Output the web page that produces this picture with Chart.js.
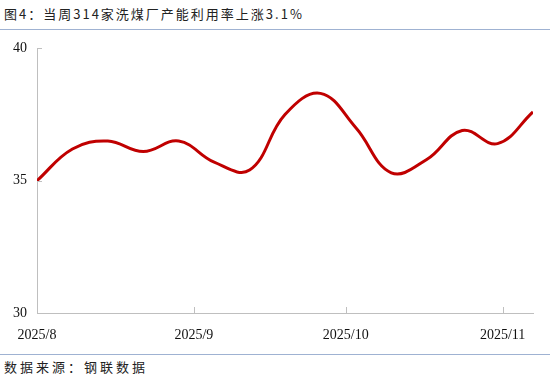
<!DOCTYPE html>
<html>
<head>
<meta charset="utf-8">
<script src="https://cdn.jsdelivr.net/npm/chart.js@4"></script>
<style>
    body { margin: 0; background: #fff; width: 550px; height: 381px; position: relative; overflow: hidden; }
    #title { position: absolute; left: 4px; top: 4px; font: 13px 'Noto Sans CJK SC'; letter-spacing: 2px; color: #222; white-space: nowrap; }
    #topLine { position: absolute; left: 0; top: 29px; width: 550px; height: 1px; background: #9fb2d2; }
    #box { position: absolute; left: 0; top: 30px; width: 550px; height: 313px; }
    #bottomLine { position: absolute; left: 0; top: 354px; width: 550px; height: 1px; background: #9fb2d2; }
    #source { position: absolute; left: 4px; top: 357px; font: 13px 'Noto Sans CJK SC'; letter-spacing: 3px; color: #222; white-space: nowrap; }
</style>
</head>
<body>
<div id="title">图4：当周314家洗煤厂产能利用率上涨3.1%</div>
<div id="topLine"></div>
<div id="box"><canvas id="chart"></canvas></div>
<div id="bottomLine"></div>
<div id="source">数据来源：钢联数据</div>

<script>
// weekly readings, %
var dates = ['2025-08-01', '2025-08-08', '2025-08-15', '2025-08-22', '2025-08-29',
    '2025-09-05', '2025-09-12', '2025-09-19', '2025-09-26', '2025-10-03',
    '2025-10-10', '2025-10-17', '2025-10-24', '2025-10-31', '2025-11-07'];
var utilization = [35.0, 36.2, 36.5, 36.1, 36.5, 35.7, 35.4, 37.5, 38.3, 37.0,
    35.3, 35.8, 36.9, 36.4, 37.6];

var tickDates = ['2025-08-01', '2025-09-01', '2025-10-01', '2025-11-01'];
var tickLabels = ['2025/8', '2025/9', '2025/10', '2025/11'];
var yTicks = [30, 35, 40];

var start = Date.parse(dates[0]);
function dayOf(d) {
    return (Date.parse(d) - start) / 86400000;
}

var points = dates.map((d, i) => ({ x: dayOf(d), y: utilization[i] }));
var tickDays = tickDates.map(dayOf);

// small tick marks drawn inward, like the source chart
var innerTicks = {
    id: 'innerTicks',
    afterDraw(chart) {
        var ctx = chart.ctx;
        var xs = chart.scales.x;
        var ys = chart.scales.y;
        ctx.save();
        ctx.strokeStyle = '#bfbfbf';
        ctx.lineWidth = 1;
        ctx.beginPath();
        tickDays.forEach(d => {
            var px = Math.round(xs.getPixelForValue(d)) + 0.5;
            ctx.moveTo(px, ys.bottom);
            ctx.lineTo(px, ys.bottom - 6);
        });
        yTicks.forEach(v => {
            var py = Math.round(ys.getPixelForValue(v)) + 0.5;
            ctx.moveTo(xs.left, py);
            ctx.lineTo(xs.left + 5, py);
        });
        ctx.stroke();
        ctx.restore();
    }
};

var config = {
    type: 'line',
    data: {
        datasets: [{
            label: '洗煤厂产能利用率',
            data: points,
            borderColor: '#c00000',
            backgroundColor: '#c00000',
            borderWidth: 3,
            pointRadius: 0,
            tension: 0.4,
        }]
    },
    options: {
        responsive: true,
        maintainAspectRatio: false,
        animation: false,
        layout: { padding: { top: 16, right: 17, left: 0, bottom: 0 } },
        plugins: {
            legend: { display: false },
            tooltip: { enabled: false }
        },
        scales: {
            x: {
                type: 'linear',
                min: 0,
                max: dayOf(dates[dates.length - 1]),
                afterBuildTicks: axis => {
                    axis.ticks = tickDays.map(v => ({ value: v }));
                },
                afterFit: axis => { axis.height = 30; },
                grid: { display: false, drawTicks: false },
                border: { color: '#bfbfbf', width: 1 },
                ticks: {
                    autoSkip: false,
                    maxRotation: 0,
                    padding: 14,
                    color: '#111',
                    font: { family: 'Liberation Serif', size: 14 },
                    callback: value => tickLabels[tickDays.indexOf(value)]
                }
            },
            y: {
                min: 30,
                max: 40,
                afterBuildTicks: axis => {
                    axis.ticks = yTicks.map(v => ({ value: v }));
                },
                afterFit: axis => { axis.width = 37; },
                grid: { display: false, drawTicks: false },
                border: { color: '#bfbfbf', width: 1 },
                ticks: {
                    padding: 10,
                    color: '#111',
                    font: { family: 'Liberation Serif', size: 14 }
                }
            }
        }
    },
    plugins: [innerTicks]
};

window.onload = () => {
    new Chart(document.getElementById('chart'), config);
};
</script>
</body>
</html>
